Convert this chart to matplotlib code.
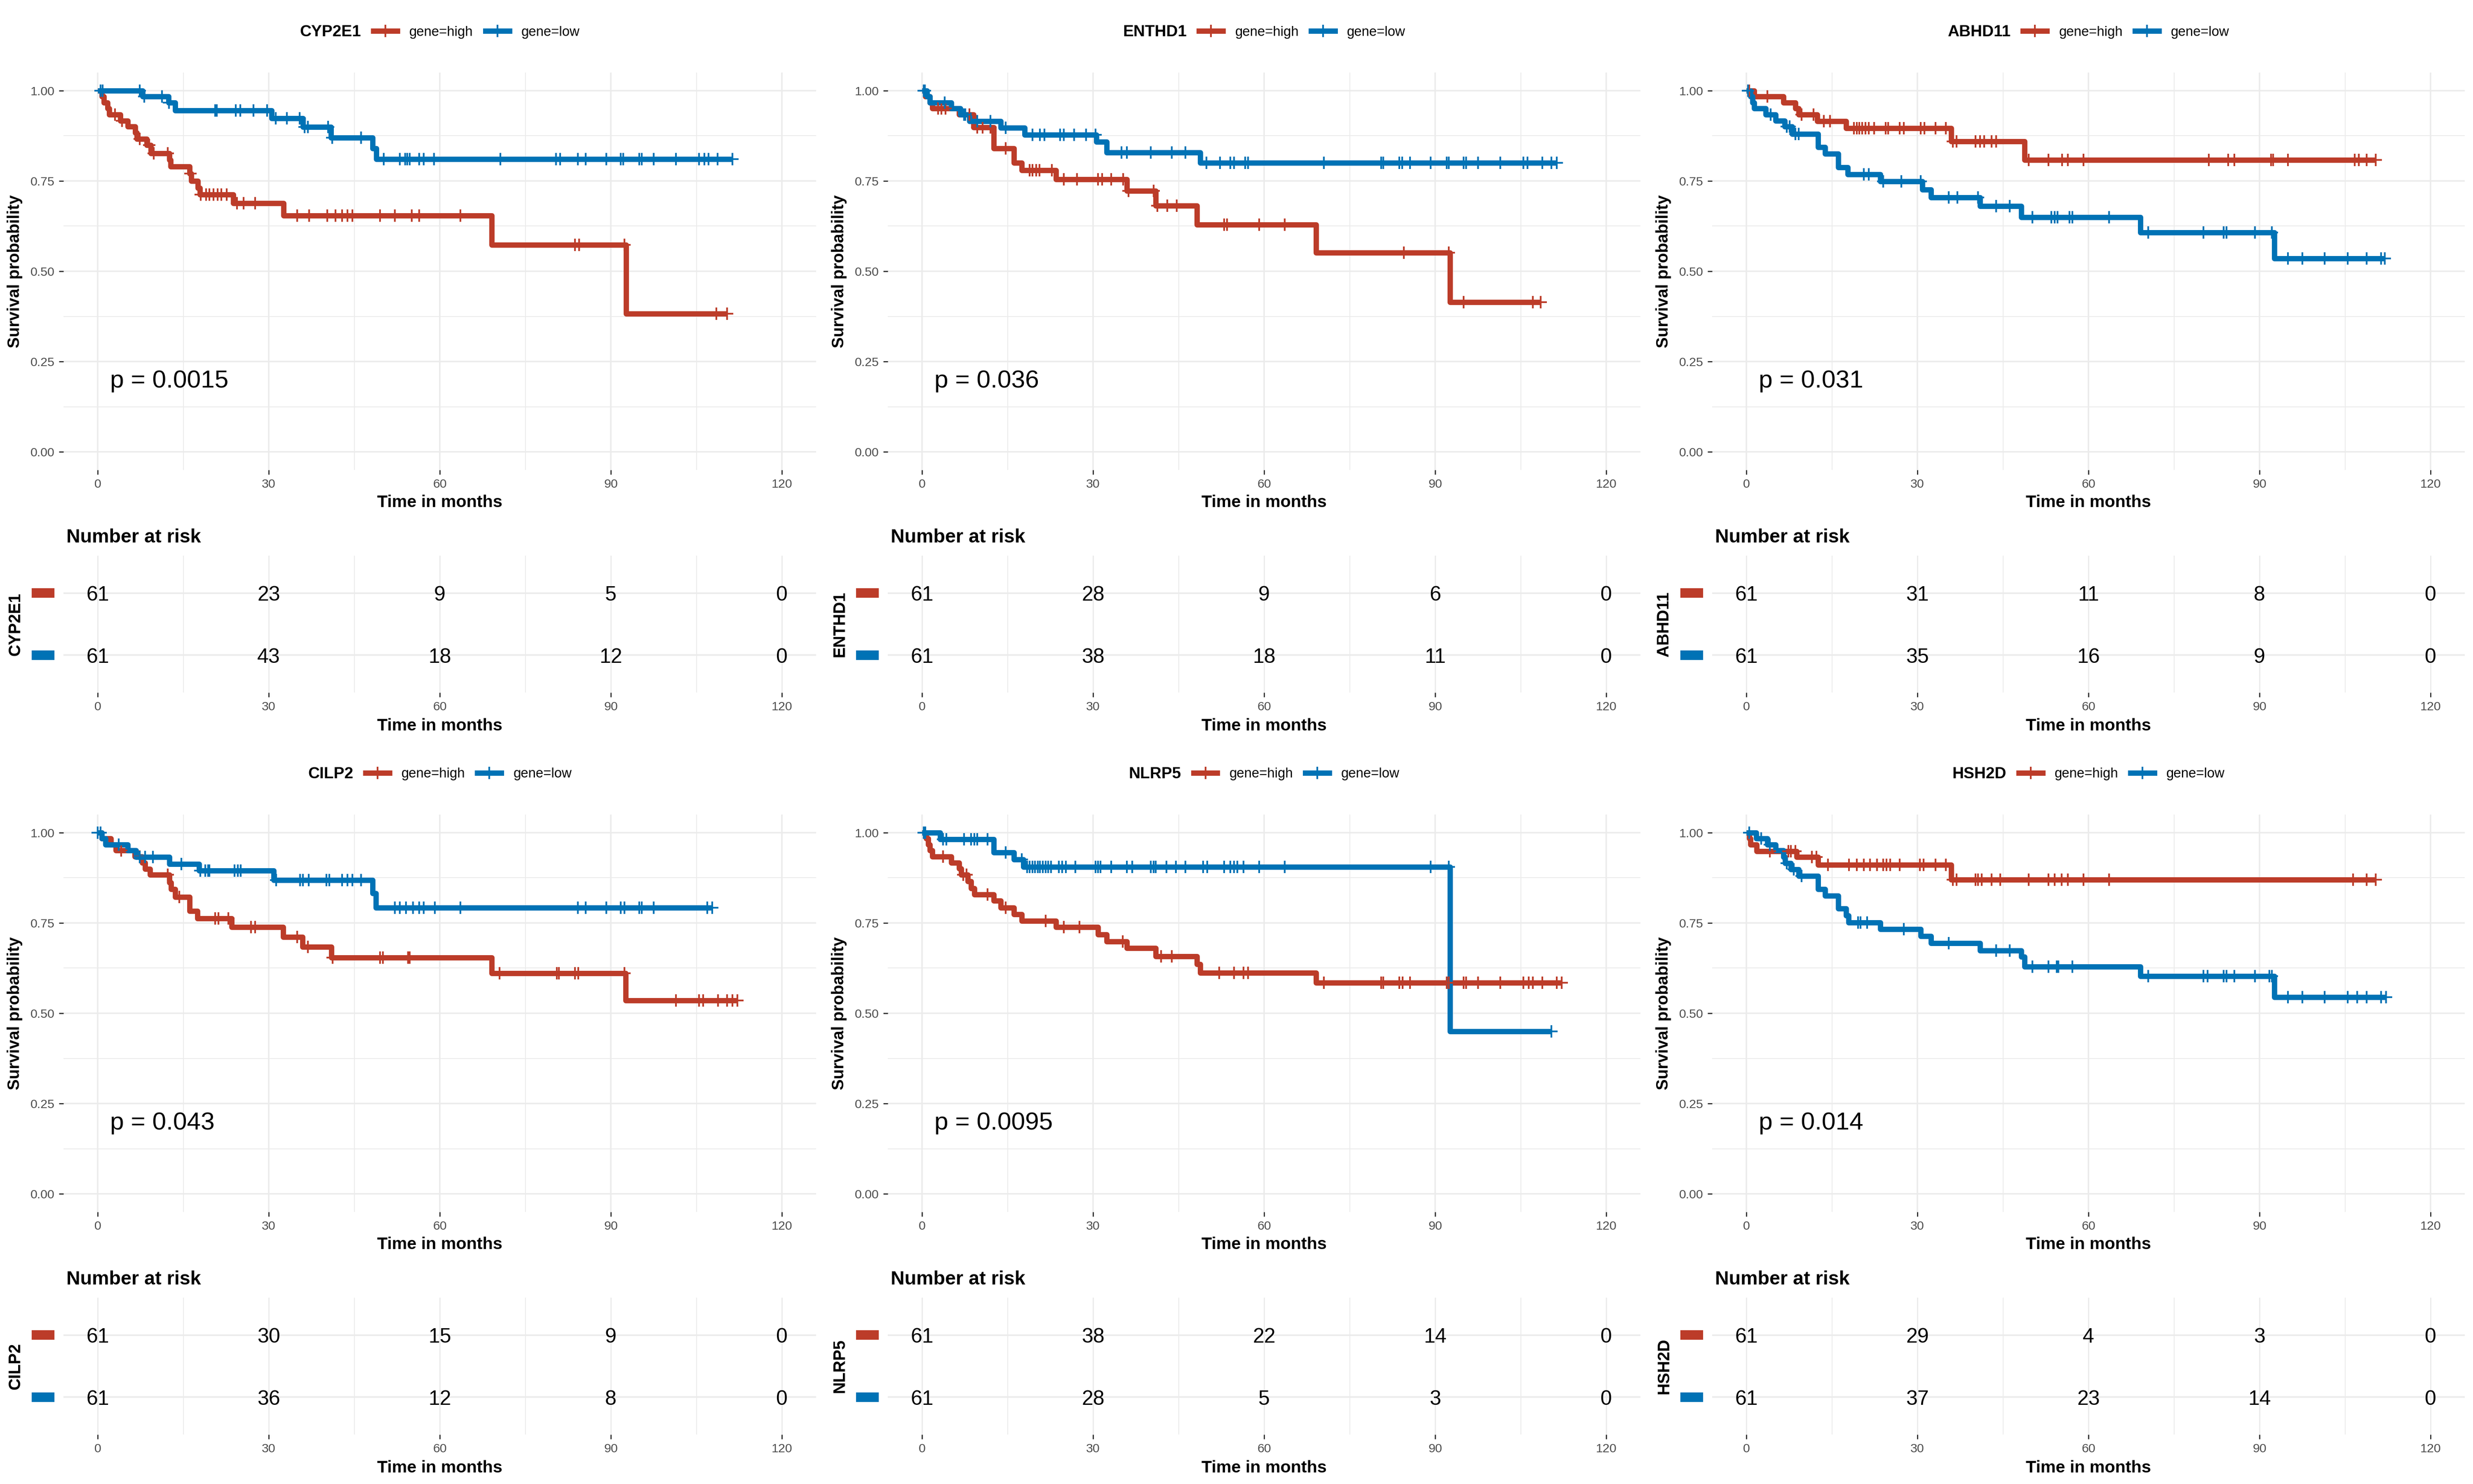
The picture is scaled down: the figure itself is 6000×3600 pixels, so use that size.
import matplotlib
matplotlib.use("Agg")
import matplotlib.pyplot as plt
from matplotlib.lines import Line2D
from matplotlib.patches import Rectangle
from matplotlib.transforms import blended_transform_factory
import numpy as np

plt.rcParams['font.family'] = ['Liberation Sans', 'DejaVu Sans']

# ---------------- data ----------------
genes = ['CYP2E1', 'ENTHD1', 'ABHD11', 'CILP2', 'NLRP5', 'HSH2D']
pvals = ['p = 0.0015', 'p = 0.036', 'p = 0.031', 'p = 0.043', 'p = 0.0095', 'p = 0.014']
group_labels = ['gene=high', 'gene=low']
risk_times = [0, 30, 60, 90, 120]

# CYP2E1
CYP2E1_high_t = [0.7, 1.1, 1.7, 2.0, 4.0, 5.3, 6.6, 6.9, 8.6, 9.3, 12.6, 12.8, 16.1, 16.4, 17.6, 17.9, 23.8, 32.6, 69.1, 92.7]
CYP2E1_high_s = [0.984, 0.967, 0.951, 0.934, 0.917, 0.900, 0.883, 0.866, 0.849, 0.826, 0.808, 0.790, 0.770, 0.750, 0.731, 0.712, 0.688, 0.654, 0.573, 0.382]
CYP2E1_high_c = [3.0, 4.3, 7.4, 9.0, 9.8, 12.3, 16.3, 18.1, 19.0, 19.6, 20.3, 21.0, 21.7, 22.6, 24.4, 25.6, 27.6, 35.0, 37.1, 40.3, 41.7, 42.9, 43.8, 44.7, 49.5, 52.1, 55.1, 56.4, 63.6, 83.7, 84.4, 92.4, 108.5, 110.4]
CYP2E1_low_t = [7.9, 12.4, 13.6, 30.5, 36.0, 40.9, 48.2, 48.9]
CYP2E1_low_s = [0.984, 0.967, 0.945, 0.923, 0.899, 0.870, 0.840, 0.810]
CYP2E1_low_c = [0.5, 0.9, 7.4, 8.2, 11.3, 12.5, 20.6, 20.9, 24.2, 25.0, 27.3, 29.7, 31.2, 33.2, 35.4, 36.3, 36.9, 40.4, 41.1, 46.2, 50.2, 53.0, 53.9, 54.3, 54.7, 56.4, 57.2, 59.0, 70.6, 80.4, 81.1, 84.2, 85.6, 89.2, 91.7, 92.2, 95.0, 95.4, 97.5, 101.4, 105.5, 106.4, 107.1, 108.7, 111.3]
CYP2E1_risk_high = [61, 23, 9, 5, 0]
CYP2E1_risk_low = [61, 43, 18, 12, 0]

# ENTHD1
ENTHD1_high_t = [0.6, 1.4, 1.8, 6.5, 9.0, 12.6, 16.1, 17.5, 23.5, 35.9, 41.0, 48.2, 69.1, 92.6]
ENTHD1_high_s = [0.984, 0.967, 0.951, 0.934, 0.898, 0.840, 0.800, 0.780, 0.754, 0.722, 0.681, 0.629, 0.551, 0.414]
ENTHD1_high_c = [2.8, 3.4, 4.1, 7.6, 8.3, 9.7, 10.6, 12.0, 14.7, 18.9, 19.4, 20.0, 20.6, 22.8, 24.9, 27.2, 30.9, 31.6, 33.2, 35.3, 36.2, 40.6, 41.3, 43.0, 44.7, 53.0, 53.5, 59.1, 63.6, 84.5, 92.4, 95.0, 107.1, 108.5]
ENTHD1_low_t = [0.9, 1.4, 5.1, 6.7, 8.3, 13.8, 18.0, 30.6, 32.4, 48.8]
ENTHD1_low_s = [0.984, 0.967, 0.951, 0.934, 0.915, 0.897, 0.878, 0.858, 0.829, 0.800]
ENTHD1_low_c = [0.3, 0.5, 4.0, 7.4, 7.6, 9.7, 12.0, 14.7, 19.4, 20.7, 21.5, 24.2, 24.9, 26.7, 28.8, 30.4, 35.0, 35.9, 40.1, 43.8, 46.2, 49.9, 52.3, 54.1, 54.7, 56.7, 57.2, 70.5, 80.5, 80.9, 83.7, 84.2, 85.6, 89.2, 92.0, 92.4, 95.0, 95.4, 97.5, 101.4, 105.5, 106.2, 108.8, 110.4, 111.3]
ENTHD1_risk_high = [61, 28, 9, 6, 0]
ENTHD1_risk_low = [61, 38, 18, 11, 0]

# ABHD11
ABHD11_high_t = [1.4, 6.5, 8.6, 9.2, 12.4, 17.5, 35.9, 48.8]
ABHD11_high_s = [0.984, 0.967, 0.951, 0.934, 0.915, 0.896, 0.860, 0.808]
ABHD11_high_c = [0.5, 3.7, 9.7, 11.8, 13.6, 14.7, 18.9, 19.4, 19.8, 20.3, 20.9, 21.5, 22.4, 24.4, 24.9, 26.9, 27.6, 30.6, 31.2, 33.2, 35.0, 36.2, 36.9, 40.2, 41.0, 41.7, 43.0, 43.8, 49.5, 53.0, 55.4, 56.4, 59.1, 81.1, 84.5, 85.6, 92.0, 92.4, 95.0, 106.7, 107.4, 108.8, 110.4]
ABHD11_low_t = [0.7, 1.1, 1.4, 3.4, 5.1, 6.7, 8.0, 12.6, 13.8, 16.1, 17.8, 23.5, 30.9, 32.4, 41.0, 48.2, 69.1, 92.6]
ABHD11_low_s = [0.984, 0.967, 0.951, 0.934, 0.917, 0.900, 0.880, 0.843, 0.825, 0.787, 0.768, 0.749, 0.726, 0.704, 0.680, 0.650, 0.607, 0.535]
ABHD11_low_c = [0.3, 4.3, 7.1, 7.6, 8.6, 9.2, 20.6, 21.5, 24.0, 27.2, 30.6, 35.5, 37.0, 40.6, 43.8, 46.2, 50.2, 53.5, 54.1, 54.6, 56.7, 57.2, 63.6, 70.5, 80.2, 83.7, 84.2, 89.2, 92.2, 95.0, 97.5, 101.4, 105.5, 108.8, 111.3, 112.0]
ABHD11_risk_high = [61, 31, 11, 8, 0]
ABHD11_risk_low = [61, 35, 16, 9, 0]

# CILP2
CILP2_high_t = [0.7, 2.3, 3.2, 6.5, 7.8, 8.3, 9.2, 12.6, 12.9, 13.6, 16.1, 17.5, 23.5, 32.5, 35.9, 41.0, 69.1, 92.6]
CILP2_high_s = [0.984, 0.967, 0.951, 0.934, 0.917, 0.899, 0.883, 0.862, 0.843, 0.822, 0.783, 0.762, 0.739, 0.711, 0.684, 0.654, 0.611, 0.535]
CILP2_high_c = [4.1, 7.4, 12.3, 14.3, 20.6, 21.2, 22.9, 26.9, 27.6, 35.0, 36.9, 41.2, 49.5, 50.0, 54.4, 54.7, 70.5, 80.5, 80.9, 83.7, 84.3, 92.4, 101.4, 105.5, 106.2, 108.8, 110.4, 111.3, 112.2]
CILP2_low_t = [0.7, 1.4, 5.3, 6.7, 12.6, 17.8, 30.9, 48.2, 48.8]
CILP2_low_s = [0.984, 0.967, 0.951, 0.933, 0.913, 0.895, 0.869, 0.832, 0.792]
CILP2_low_c = [0.0, 0.5, 3.7, 7.4, 8.3, 9.7, 14.7, 18.0, 18.9, 19.4, 19.6, 24.0, 24.6, 25.1, 31.3, 35.5, 36.0, 37.0, 40.1, 40.6, 42.9, 43.8, 44.7, 46.2, 52.1, 53.0, 54.1, 55.3, 56.4, 57.2, 59.1, 63.6, 84.2, 85.6, 89.2, 91.7, 92.4, 95.0, 95.4, 97.5, 106.9, 107.8]
CILP2_risk_high = [61, 30, 15, 9, 0]
CILP2_risk_low = [61, 36, 12, 8, 0]

# NLRP5
NLRP5_high_t = [0.7, 1.1, 1.4, 1.8, 5.1, 6.5, 6.9, 8.0, 8.6, 9.2, 12.6, 13.8, 16.1, 17.5, 23.5, 30.9, 32.4, 35.9, 41.0, 48.2, 48.8, 69.1]
NLRP5_high_s = [0.984, 0.967, 0.951, 0.934, 0.917, 0.900, 0.883, 0.865, 0.846, 0.829, 0.811, 0.792, 0.774, 0.756, 0.738, 0.718, 0.699, 0.680, 0.658, 0.636, 0.612, 0.584]
NLRP5_high_c = [3.7, 7.2, 7.8, 11.5, 14.7, 21.7, 24.9, 27.6, 35.2, 41.9, 43.8, 52.1, 54.7, 56.4, 57.2, 70.5, 80.5, 80.9, 83.7, 84.3, 85.6, 92.0, 92.4, 95.0, 95.4, 97.5, 101.4, 105.5, 106.4, 107.1, 108.8, 111.3, 112.2]
NLRP5_low_t = [3.2, 12.6, 16.1, 17.8, 92.6]
NLRP5_low_s = [0.982, 0.945, 0.926, 0.905, 0.450]
NLRP5_low_c = [0.3, 0.6, 3.7, 4.3, 7.4, 8.6, 9.2, 9.7, 11.5, 14.7, 17.5, 18.4, 18.9, 19.4, 19.8, 20.3, 20.7, 21.2, 21.7, 22.1, 22.6, 24.0, 24.6, 25.2, 26.9, 30.4, 30.9, 31.3, 33.2, 35.9, 36.9, 40.1, 40.6, 41.0, 42.9, 44.5, 46.2, 49.3, 50.0, 53.0, 54.1, 54.7, 55.3, 56.4, 59.1, 63.6, 89.2, 92.4, 110.4]
NLRP5_risk_high = [61, 38, 22, 14, 0]
NLRP5_risk_low = [61, 28, 5, 3, 0]

# HSH2D
HSH2D_high_t = [0.5, 0.7, 1.8, 8.8, 12.6, 35.9]
HSH2D_high_s = [0.984, 0.967, 0.949, 0.932, 0.911, 0.870]
HSH2D_high_c = [4.1, 7.4, 7.8, 8.6, 11.5, 12.3, 14.3, 18.0, 19.4, 20.6, 21.7, 22.9, 24.0, 24.6, 25.2, 26.9, 30.4, 31.1, 33.2, 35.0, 36.2, 36.9, 40.2, 40.6, 41.3, 43.0, 44.5, 49.5, 53.0, 54.1, 55.3, 56.4, 59.1, 63.6, 106.4, 108.8, 110.4]
HSH2D_low_t = [1.7, 3.7, 5.1, 6.5, 6.8, 7.8, 9.2, 12.6, 13.8, 16.1, 17.5, 17.9, 23.5, 30.6, 32.4, 41.0, 48.2, 48.8, 69.1, 92.6]
HSH2D_low_s = [0.984, 0.967, 0.951, 0.933, 0.915, 0.898, 0.880, 0.843, 0.825, 0.790, 0.770, 0.751, 0.733, 0.713, 0.694, 0.673, 0.656, 0.629, 0.603, 0.544]
HSH2D_low_c = [0.5, 2.6, 4.1, 7.1, 8.3, 9.7, 19.6, 20.0, 21.2, 27.6, 35.5, 43.8, 46.2, 50.2, 53.0, 54.4, 54.7, 57.2, 70.5, 80.2, 80.9, 83.7, 84.2, 85.6, 89.2, 91.7, 92.2, 95.0, 97.5, 101.4, 105.5, 107.1, 108.8, 111.3, 112.2]
HSH2D_risk_high = [61, 29, 4, 3, 0]
HSH2D_risk_low = [61, 37, 23, 14, 0]

curves = {
    'CYP2E1': [(CYP2E1_high_t, CYP2E1_high_s, CYP2E1_high_c), (CYP2E1_low_t, CYP2E1_low_s, CYP2E1_low_c), CYP2E1_risk_high, CYP2E1_risk_low],
    'ENTHD1': [(ENTHD1_high_t, ENTHD1_high_s, ENTHD1_high_c), (ENTHD1_low_t, ENTHD1_low_s, ENTHD1_low_c), ENTHD1_risk_high, ENTHD1_risk_low],
    'ABHD11': [(ABHD11_high_t, ABHD11_high_s, ABHD11_high_c), (ABHD11_low_t, ABHD11_low_s, ABHD11_low_c), ABHD11_risk_high, ABHD11_risk_low],
    'CILP2': [(CILP2_high_t, CILP2_high_s, CILP2_high_c), (CILP2_low_t, CILP2_low_s, CILP2_low_c), CILP2_risk_high, CILP2_risk_low],
    'NLRP5': [(NLRP5_high_t, NLRP5_high_s, NLRP5_high_c), (NLRP5_low_t, NLRP5_low_s, NLRP5_low_c), NLRP5_risk_high, NLRP5_risk_low],
    'HSH2D': [(HSH2D_high_t, HSH2D_high_s, HSH2D_high_c), (HSH2D_low_t, HSH2D_low_s, HSH2D_low_c), HSH2D_risk_high, HSH2D_risk_low],
}

# ---------------- style ----------------
COLORS = ['#BC3C29', '#0072B5']
GRID = '#EBEBEB'
TICKTXT = '#4D4D4D'
W, H, DPI = 6000, 3600, 300
LW = 3.1

fig = plt.figure(figsize=(W / DPI, H / DPI), dpi=DPI)
fig.patch.set_facecolor('white')


def add_px_axes(x0, y0, x1, y1):
    return fig.add_axes([x0 / W, 1 - y1 / H, (x1 - x0) / W, (y1 - y0) / H])


def level_at(t, s, times):
    idx = np.searchsorted(np.asarray(t), np.asarray(times), side='right')
    levels = np.concatenate([[1.0], s])
    return levels[idx]


def style_axes(ax, ymajor_lw=0.85, xmajor_lw=0.85, xminor_lw=0.5, yminor_lw=0.5):
    for sp in ax.spines.values():
        sp.set_visible(False)
    ax.set_xlim(-6, 126)
    ax.set_xticks(risk_times)
    ax.set_xticks([15, 45, 75, 105], minor=True)
    ax.set_axisbelow(True)
    ax.xaxis.grid(True, which='major', color=GRID, lw=xmajor_lw)
    ax.xaxis.grid(True, which='minor', color=GRID, lw=xminor_lw)
    ax.yaxis.grid(True, which='major', color=GRID, lw=ymajor_lw)
    ax.yaxis.grid(True, which='minor', color=GRID, lw=yminor_lw)
    ax.tick_params(which='major', length=2.75, width=0.7, color='#333333',
                   labelsize=7.3, labelcolor=TICKTXT, pad=2.4)
    ax.tick_params(which='minor', length=0)


for k, gene in enumerate(genes):
    c, r = k % 3, k // 3
    X, Y = 2000 * c, 1800 * r
    (hi, lo, risk_hi, risk_lo) = curves[gene]

    # ----- survival panel -----
    ax = add_px_axes(X + 154, Y + 176, X + 1980, Y + 1140)
    style_axes(ax)
    ax.set_ylim(-0.05, 1.05)
    ax.set_yticks([0, 0.25, 0.5, 0.75, 1.0])
    ax.set_yticklabels(['0.00', '0.25', '0.50', '0.75', '1.00'])
    ax.set_yticks([0.125, 0.375, 0.625, 0.875], minor=True)

    for (t, s, cens), col in zip([hi, lo], COLORS):
        end = max([t[-1]] + list(cens))
        x = np.concatenate([[0.0], t, [end]])
        y = np.concatenate([[1.0], s, [s[-1]]])
        ax.step(x, y, where='post', color=col, lw=LW,
                solid_joinstyle='round', solid_capstyle='butt', zorder=3)
    for (t, s, cens), col in zip([hi, lo], COLORS):
        ax.plot(cens, level_at(t, s, cens), ls='none', marker='+', ms=7,
                mew=1.0, color=col, zorder=4)

    ax.text(2.2, 0.178, pvals[k], fontsize=14.5, ha='left', va='baseline')

    ax.set_xlabel('Time in months', fontsize=9.9, fontweight='bold')
    ax.xaxis.set_label_coords(0.5, -0.0934)
    ax.xaxis.label.set_va('baseline')
    ax.set_ylabel('Survival probability', fontsize=9.6, fontweight='bold')
    ax.yaxis.set_label_coords(-0.0646, 0.5)
    ax.yaxis.label.set_va('center')

    handles = [Line2D([0], [0], color=col, lw=LW, marker='+', ms=7, mew=1.0)
               for col in COLORS]
    leg = ax.legend(handles, group_labels, title=gene, ncol=2, loc='center',
                    bbox_to_anchor=((X + 1067) / W, 1 - (Y + 78) / H),
                    bbox_transform=fig.transFigure, frameon=False,
                    fontsize=7.9, title_fontproperties={'weight': 'bold', 'size': 9.3},
                    handlelength=1.76, handletextpad=0.88, columnspacing=0.91,
                    borderpad=0)
    # put legend title on the same line as the keys
    vbox = leg._legend_box
    tbox = leg._legend_title_box
    hbox = leg._legend_handle_box
    vbox._children.remove(tbox)
    hbox._children.insert(0, tbox)
    hbox.align = 'center'

    # ----- risk table -----
    rax = add_px_axes(X + 154, Y + 1348, X + 1980, Y + 1680)
    style_axes(rax, ymajor_lw=0.9, xmajor_lw=0.7, xminor_lw=0.5)
    rax.set_ylim(0.4, 2.6)
    rax.set_yticks([1, 2])
    rax.set_yticklabels(['', ''])
    rax.tick_params(axis='y', length=0)
    for row, vals, col in [(2, risk_hi, COLORS[0]), (1, risk_lo, COLORS[1])]:
        for tt, v in zip(risk_times, vals):
            rax.text(tt, row - 0.12, str(v), fontsize=12, ha='center', va='baseline')
        trans = blended_transform_factory(fig.transFigure, rax.transData)
        fig.add_artist(Rectangle(((X + 79) / W, row - 0.063), 51 / W, 0.126,
                                 transform=trans, color=col, clip_on=False))
    rax.text(7 / 1826, 1.096, 'Number at risk', transform=rax.transAxes,
             fontsize=11.2, fontweight='bold', ha='left', va='baseline')
    rax.set_xlabel('Time in months', fontsize=9.9, fontweight='bold')
    rax.xaxis.set_label_coords(0.5, -0.277)
    rax.xaxis.label.set_va('baseline')
    rax.set_ylabel(gene, fontsize=9.6, fontweight='bold')
    rax.yaxis.set_label_coords(-0.064, 0.5)
    rax.yaxis.label.set_va('center')

fig.savefig('out.png', dpi=DPI, facecolor='white')
